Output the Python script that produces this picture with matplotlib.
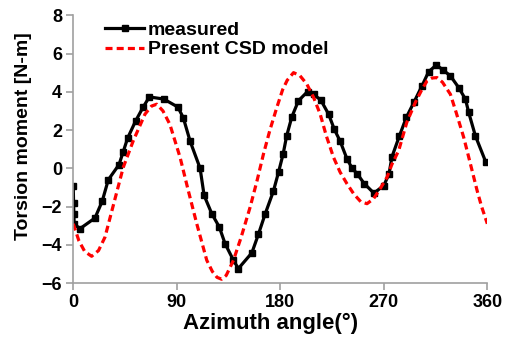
import matplotlib
matplotlib.use("Agg")
import matplotlib.pyplot as plt

plt.rcParams['font.family'] = ['Liberation Sans', 'DejaVu Sans']
plt.rcParams['font.weight'] = 'bold'

# measured torsion moment
meas_x = [0, 0.3, 0.6, 0.8, 5.8, 18.9, 25.2, 30.5, 39.8, 43.5, 47.3, 54.3, 60.9,
          66.2, 78.7, 91, 95.7, 101.6, 110.3, 113.8, 120.5, 127, 132, 139.3,
          143.6, 155.3, 161, 166.9, 174, 178.5, 182.5, 185.5, 190, 195.8,
          203.7, 208.9, 215.3, 222, 226.9, 232.1, 238, 242.3, 247, 253,
          261.4, 270, 274.5, 277.1, 283.5, 289.6, 296.5, 303.2, 309, 315.7,
          321.5, 327.9, 335.1, 341, 343.8, 349.6, 358.5]
meas_y = [-0.9, -1.8, -2.4, -2.9, -3.16, -2.6, -1.72, -0.6, 0.19, 0.87, 1.58, 2.48, 3.21,
          3.73, 3.62, 3.2, 2.64, 1.42, 0.0, -1.42, -2.38, -3.07, -3.94, -4.81,
          -5.24, -4.42, -3.45, -2.38, -1.2, -0.2, 0.75, 1.68, 2.68, 3.53,
          4.01, 3.87, 3.56, 2.83, 2.05, 1.41, 0.49, 0.02, -0.3, -0.8,
          -1.3, -0.9, -0.3, 0.6, 1.68, 2.66, 3.49, 4.31, 5.05, 5.4,
          5.14, 4.83, 4.22, 3.61, 2.92, 1.7, 0.35]

# present CSD model
model_x = [0, 5, 10, 16, 22, 27.6, 35, 43.5, 52.2, 62.4, 68, 72.6, 78, 84, 92.9,
           100, 107.4, 116.1, 121, 125, 129, 133, 139.3, 146, 153.8, 160, 165.4,
           171, 177, 182, 186, 191.5, 197, 203.1, 209, 214.7, 220, 226.3, 232,
           238, 244, 250, 255.4, 261, 267, 272.8, 277, 282.9, 290, 297.4, 303,
           307.6, 312, 316.3, 321, 327.9, 333, 339.5, 345, 351.1, 355, 360]
model_y = [-2.9, -3.8, -4.35, -4.6, -4.3, -3.6, -1.9, 0.05, 1.44, 2.83, 3.25, 3.35, 3.0, 2.3, 0.57,
           -1.16, -2.9, -4.81, -5.4, -5.7, -5.8, -5.6, -4.81, -3.6, -2.03, -0.6, 0.75,
           2.0, 3.18, 4.1, 4.6, 5.0, 4.85, 4.4, 3.7, 2.83, 1.7, 0.57, -0.2,
           -0.81, -1.35, -1.75, -1.85, -1.6, -1.05, -0.47, 0.2, 0.92, 2.4, 3.44, 4.1,
           4.57, 4.72, 4.74, 4.5, 3.87, 2.9, 1.61, 0.3, -1.16, -2.0, -2.9]

fig = plt.figure(figsize=(5.05, 3.39), dpi=100)
ax = fig.add_axes([0.145, 0.165, 0.82, 0.79])

ax.plot(meas_x, meas_y, color='black', lw=2.3, marker='s', ms=5,
        label='measured')
ax.plot(model_x, model_y, color='red', lw=2.3, dashes=(2.2, 1.3),
        label='Present CSD model')

ax.set_xlim(0, 360)
ax.set_ylim(-6, 8)
ax.set_xticks([0, 90, 180, 270, 360])
ax.set_yticks(range(-6, 9, 2))

for s in ['top', 'right']:
    ax.spines[s].set_visible(False)
for s in ['left', 'bottom']:
    ax.spines[s].set_color('#a0a0a0')
    ax.spines[s].set_linewidth(1.2)
ax.tick_params(direction='out', length=5, width=1.2, color='#a0a0a0',
               labelsize=13, pad=3)

ax.set_xlabel('Azimuth angle(°)', fontsize=16, fontweight='bold')
ax.xaxis.set_label_coords(0.476, -0.112)
ax.set_ylabel('Torsion moment [N-m]', fontsize=14, fontweight='bold')
ax.yaxis.set_label_coords(-0.1, 0.55)

leg = ax.legend(loc='upper left', bbox_to_anchor=(0.077, 0.978), frameon=False,
                fontsize=14, handlelength=2.0, handletextpad=0.2,
                labelspacing=0.1, borderpad=0, borderaxespad=0)

fig.savefig('out.png', dpi=100)
